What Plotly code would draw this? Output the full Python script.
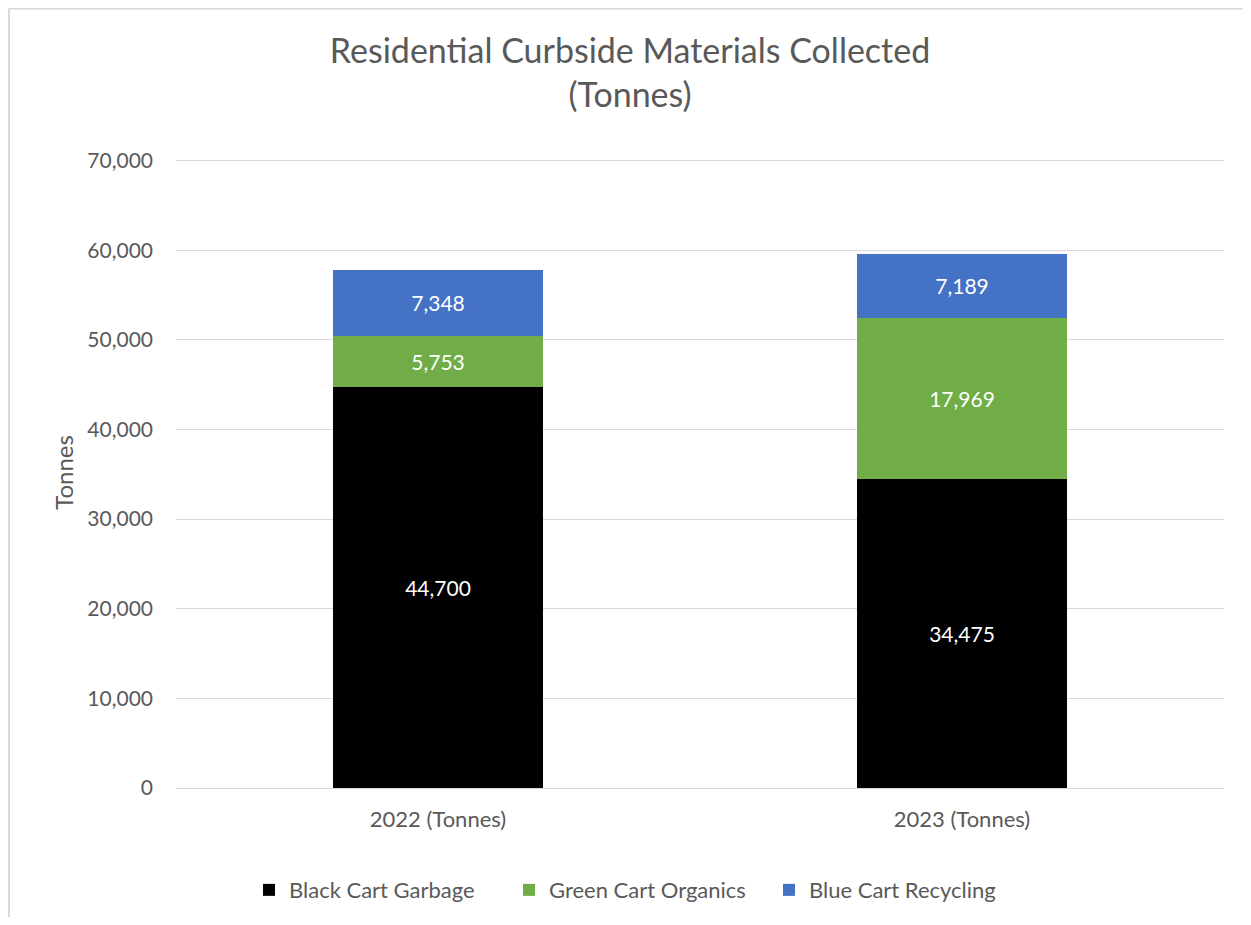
import plotly.graph_objects as go

years = ["2022 (Tonnes)", "2023 (Tonnes)"]
series_names = ["Black Cart Garbage", "Green Cart Organics", "Blue Cart Recycling"]
black_cart = [44700, 34475]
green_cart = [5753, 17969]
blue_cart = [7348, 7189]
colors = ["#000000", "#70AD47", "#4472C4"]
y_ticks = [0, 10000, 20000, 30000, 40000, 50000, 60000, 70000]

FONT = "Lato, Open Sans, sans-serif"
GREY = "#595959"
FS = 21

fig = go.Figure()
for name, vals, col in zip(series_names, [black_cart, green_cart, blue_cart], colors):
    fig.add_trace(go.Bar(
        name=name, x=years, y=vals, marker=dict(color=col, line=dict(width=0)),
        text=[f"{v:,}" for v in vals], textposition="inside", insidetextanchor="middle",
        textfont=dict(color="white", size=FS, family=FONT),
    ))

# page body has an 8px offset; positions below are reference pixels minus 8
OFF = 8
YMAX = 70000
YTOP = 70400  # a little headroom so the 70,000 gridline is drawn
W, H = 1251 - 2 * OFF, 925 - 2 * OFF
y0_px, y70_px = 788, 161
px_per_unit = (y0_px - y70_px) / YMAX
PL, PR = 176 - OFF, 1224 - OFF
PB = y0_px - OFF
PT = PB - YTOP * px_per_unit
L, R, T, B = PL, W - PR, PT, H - PB
pw, ph = PR - PL, PB - PT

def px_x(x):
    return (x - OFF - PL) / pw

def px_y(y):
    return (PB - (y - OFF)) / ph

fig.update_layout(
    width=W, height=H, barmode="stack", bargap=0.6,
    paper_bgcolor="white", plot_bgcolor="white",
    margin=dict(l=L, r=R, t=T, b=B, autoexpand=False),
    font=dict(family=FONT, color=GREY),
    title=dict(text="Residential Curbside Materials Collected<br>(Tonnes)",
               x=px_x(630), xref="paper", xanchor="center",
               y=(H - (63 - OFF)) / H, yref="container", yanchor="middle",
               font=dict(size=34, color=GREY, family=FONT)),
    legend=dict(orientation="h", x=px_x(639), xanchor="center",
                y=px_y(890), yanchor="middle",
                font=dict(size=22, color=GREY, family=FONT),
                itemwidth=30, traceorder="normal",
                entrywidth=215, entrywidthmode="pixels"),
    xaxis=dict(showgrid=False, showline=True, linecolor="#d9d9d9", linewidth=1,
               tickfont=dict(size=22, color=GREY), ticks="", ticklabelstandoff=12),
    yaxis=dict(range=[0, YTOP], tickvals=y_ticks, tickformat=",",
               showgrid=True, gridcolor="#d9d9d9", gridwidth=1, zeroline=False,
               showline=False, ticks="", ticklabelstandoff=22,
               tickfont=dict(size=FS, color=GREY),
               title=dict(text="Tonnes", font=dict(size=24, color=GREY), standoff=6)),
)

# chart frame (left and top edges visible in the reference)
x_left = px_x(OFF + 1)
y_top = px_y(OFF + 1)
fig.add_shape(type="line", xref="paper", yref="paper", x0=x_left, x1=x_left,
              y0=px_y(925), y1=y_top, line=dict(color="#d9d9d9", width=2))
fig.add_shape(type="line", xref="paper", yref="paper", x0=x_left, x1=px_x(1260),
              y0=y_top, y1=y_top, line=dict(color="#d9d9d9", width=2))

fig.write_html("out.html")
